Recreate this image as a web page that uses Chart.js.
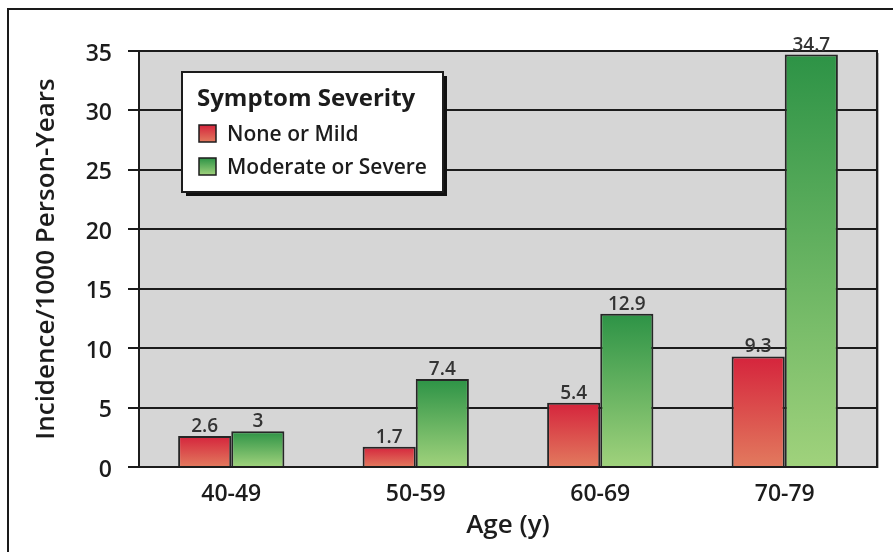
<!DOCTYPE html>
<html>
<head>
<meta charset="utf-8">
<script src="https://cdn.jsdelivr.net/npm/chart.js@4.4.0/dist/chart.umd.min.js"></script>
<style>
    html, body { margin: 0; padding: 0; background: #fff; }
    #wrap { position: relative; width: 893px; height: 552px; overflow: hidden; }
    #frame {
        position: absolute; left: 7px; top: 8px; width: 920px; height: 600px;
        border-top: 2px solid #1a1a1a; border-left: 2px solid #1a1a1a;
    }
    canvas { position: absolute; left: 0; top: 0; }
</style>
</head>
<body>
<div id="wrap">
    <div id="frame"></div>
    <canvas id="myChart" width="893" height="552"></canvas>
</div>
<script>
const ageGroups = ['40-49', '50-59', '60-69', '70-79'];
const noneOrMild = [2.6, 1.7, 5.4, 9.3];
const moderateOrSevere = [3, 7.4, 12.9, 34.7];
const yTicks = [0, 5, 10, 15, 20, 25, 30, 35];
const legendTitle = 'Symptom Severity';

const FONT = '"Open Sans", "Noto Sans", sans-serif';
const INK = '#1c1c1c';

const RED = ['#d5243c', '#e27a5e'];
const GREEN = ['#2d9346', '#a0d27c'];

/**
 * vertical gradient over one bar, dark at the top
 */
function barGradient(context, colors)
{
    const chart = context.chart;
    if (!chart.chartArea || context.type !== 'data') {
        return colors[0];
    }
    const y = chart.scales.y;
    const top = y.getPixelForValue(context.raw);
    const bottom = y.getPixelForValue(0);
    const g = chart.ctx.createLinearGradient(0, top, 0, bottom);
    g.addColorStop(0, colors[0]);
    g.addColorStop(1, colors[1]);
    return g;
}

const plotFrame = {
    id: 'plotFrame',
    beforeDraw(chart) {
        const {ctx, chartArea: a} = chart;
        ctx.save();
        ctx.fillStyle = '#d6d6d6';
        ctx.fillRect(a.left, a.top, a.right - a.left, a.bottom - a.top);
        ctx.restore();
    },
    afterDatasetsDraw(chart) {
        const {ctx, chartArea: a} = chart;
        ctx.save();
        ctx.strokeStyle = INK;
        ctx.lineWidth = 2;
        ctx.beginPath();
        ctx.moveTo(a.right, a.top - 1);
        ctx.lineTo(a.right, a.bottom + 1);
        ctx.stroke();
        ctx.strokeStyle = '#b0b0b0';
        ctx.lineWidth = 1;
        ctx.beginPath();
        ctx.moveTo(a.right + 1.5, a.top + 2);
        ctx.lineTo(a.right + 1.5, a.bottom + 1);
        ctx.stroke();

        // value labels above the bars
        ctx.fillStyle = '#333';
        ctx.font = '600 19px ' + FONT;
        ctx.textAlign = 'center';
        ctx.textBaseline = 'alphabetic';
        chart.data.datasets.forEach((ds, i) => {
            chart.getDatasetMeta(i).data.forEach((bar, j) => {
                ctx.fillText(String(ds.data[j]), bar.x, bar.y - 4);
            });
        });
        ctx.restore();
    }
};

const boxLegend = {
    id: 'boxLegend',
    afterDraw(chart) {
        const ctx = chart.ctx;
        const x = 182, y = 72, w = 261, h = 120;
        ctx.save();
        ctx.fillStyle = '#111';
        ctx.fillRect(x + 4, y + 4, w, h);
        ctx.fillStyle = '#fff';
        ctx.fillRect(x, y, w, h);
        ctx.strokeStyle = INK;
        ctx.lineWidth = 2;
        ctx.strokeRect(x, y, w, h);

        ctx.fillStyle = INK;
        ctx.textAlign = 'left';
        ctx.textBaseline = 'alphabetic';
        ctx.font = 'bold 24px ' + FONT;
        ctx.fillText(legendTitle, 197, 106);

        const sets = [[RED, 125], [GREEN, 158]];
        chart.data.datasets.forEach((ds, i) => {
            const [colors, sy] = sets[i];
            const g = ctx.createLinearGradient(0, sy, 0, sy + 17);
            g.addColorStop(0, colors[0]);
            g.addColorStop(1, colors[1]);
            ctx.fillStyle = g;
            ctx.fillRect(199, sy, 17, 17);
            ctx.lineWidth = 1.5;
            ctx.strokeRect(199, sy, 17, 17);
            ctx.fillStyle = INK;
            ctx.font = '600 21px ' + FONT;
            ctx.fillText(ds.label, 227, sy + 16);
        });
        ctx.restore();
    }
};

const chartData = {
    labels: ageGroups,
    datasets: [
        {
            label: 'None or Mild',
            data: noneOrMild,
            backgroundColor: ctx => barGradient(ctx, RED),
            borderColor: '#262626',
            borderWidth: 2,
            borderSkipped: 'bottom',
        },
        {
            label: 'Moderate or Severe',
            data: moderateOrSevere,
            backgroundColor: ctx => barGradient(ctx, GREEN),
            borderColor: '#262626',
            borderWidth: 2,
            borderSkipped: 'bottom',
        }
    ]
};

const config = {
    type: 'bar',
    data: chartData,
    plugins: [plotFrame, boxLegend],
    options: {
        responsive: false,
        animation: false,
        datasets: {
            bar: { categoryPercentage: 0.576, barPercentage: 1 }
        },
        layout: {
            padding: { left: 0, right: 16, top: 51, bottom: 0 }
        },
        plugins: {
            legend: { display: false },
            tooltip: { enabled: false }
        },
        scales: {
            x: {
                grid: { display: false },
                border: { display: false },
                ticks: {
                    color: INK,
                    font: { family: FONT, size: 23, weight: '600' },
                    padding: 6
                },
                title: {
                    display: true,
                    text: 'Age (y)',
                    color: INK,
                    font: { family: FONT, size: 26, weight: '600' },
                    padding: { top: 0, bottom: 11 }
                },
                afterFit: (scale) => { scale.height = 85; }
            },
            y: {
                min: 0,
                max: 35,
                afterBuildTicks: (scale) => {
                    scale.ticks = yTicks.map(v => ({ value: v }));
                },
                grid: {
                    color: INK,
                    lineWidth: 2,
                    tickLength: 11,
                    drawTicks: true
                },
                border: { display: true, color: INK, width: 2 },
                ticks: {
                    color: INK,
                    font: { family: FONT, size: 23, weight: '600' },
                    padding: 16,
                    labelOffset: 3
                },
                title: {
                    display: true,
                    text: 'Incidence/1000 Person-Years',
                    color: INK,
                    font: { family: FONT, size: 26, weight: '600' },
                    padding: { top: 31, bottom: 0 }
                },
                afterFit: (scale) => { scale.width = 139; }
            }
        }
    }
};

const ctx = document.getElementById('myChart').getContext('2d');

if (ctx) {
    new Chart(ctx, config);
}
</script>
</body>
</html>
